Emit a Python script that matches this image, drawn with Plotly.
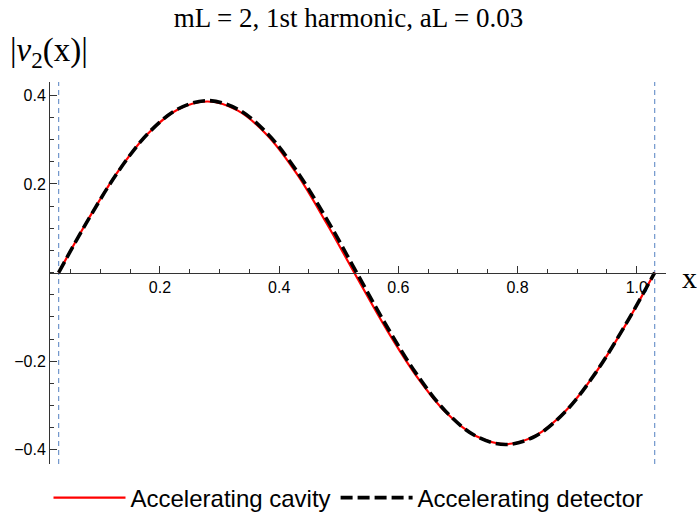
import plotly.graph_objects as go

# Sampled mode profile |v2(x)| across the cavity
x_pts = [0.03, 0.08, 0.13, 0.18, 0.23, 0.28, 0.33, 0.38, 0.43, 0.48, 0.53,
         0.58, 0.63, 0.68, 0.73, 0.78, 0.83, 0.88, 0.93, 0.98, 1.03]
cavity = [0.000, 0.121, 0.229, 0.314, 0.368, 0.386, 0.366, 0.310, 0.222, 0.110, -0.010,
          -0.128, -0.233, -0.316, -0.369, -0.387, -0.368, -0.313, -0.228, -0.121, 0.000]
detector = [0.000, 0.120, 0.228, 0.314, 0.369, 0.388, 0.369, 0.314, 0.228, 0.120, 0.000,
            -0.120, -0.228, -0.314, -0.369, -0.388, -0.369, -0.314, -0.228, -0.120, 0.000]

# Cavity walls
boundaries = [0.03, 1.03]

x_ticks = [0.2, 0.4, 0.6, 0.8, 1.0]
x_ticktext = ["0.2", "0.4", "0.6", "0.8", "1.0"]
y_ticks = [-0.4, -0.2, 0.2, 0.4]
y_ticktext = ["\u22120.4", "\u22120.2", "0.2", "0.4"]

x_range = [0.0155, 1.049]
y_range = [-0.432, 0.430]

W, H = 697, 512
ML, MR, MT, MB = 50, 31, 82, 48
plot_w, plot_h = W - ML - MR, H - MT - MB

fig = go.Figure()
fig.add_trace(go.Scatter(
    x=x_pts, y=cavity, mode="lines", name="Accelerating cavity",
    line=dict(color="#ff0000", width=2.2, shape="spline", smoothing=1.0),
))
fig.add_trace(go.Scatter(
    x=x_pts, y=detector, mode="lines", name="Accelerating detector",
    line=dict(color="#000000", width=3.6, dash="12px,5px", shape="spline", smoothing=1.0),
))

for b in boundaries:
    fig.add_shape(type="line", x0=b, x1=b, y0=0, y1=1, xref="x", yref="paper",
                  line=dict(color="#7096cc", width=1.2, dash="5px,4px"), layer="below")

zero_pos = (0 - y_range[0]) / (y_range[1] - y_range[0])

serif = "Liberation Serif, Times New Roman, serif"
sans = "Liberation Sans, Arial, sans-serif"

fig.update_layout(
    width=W, height=H,
    margin=dict(l=ML, r=MR, t=MT, b=MB, autoexpand=False),
    paper_bgcolor="white", plot_bgcolor="white",
    title=dict(text="mL = 2, 1st harmonic, aL = 0.03", x=0.5, xanchor="center",
               y=1 - 18 / H, yanchor="middle", yref="container",
               font=dict(family=serif, size=27, color="black")),
    showlegend=True,
    legend=dict(orientation="h", xref="container", yref="container",
                x=0.5, xanchor="center", y=1 - 498 / H, yanchor="middle",
                font=dict(family=sans, size=24, color="black"),
                itemwidth=72, bgcolor="rgba(0,0,0,0)"),
    xaxis=dict(range=x_range, anchor="free", position=zero_pos, showgrid=False, zeroline=False,
               showline=True, linecolor="#333333", linewidth=1,
               tickmode="array", tickvals=x_ticks, ticktext=x_ticktext,
               ticks="inside", ticklen=7, tickcolor="#333333", tickwidth=1,
               minor=dict(dtick=0.05, tick0=0, ticks="inside", ticklen=4, tickcolor="#333333"),
               tickfont=dict(family=sans, size=16, color="black")),
    yaxis=dict(range=y_range, showgrid=False, zeroline=False,
               showline=True, linecolor="#333333", linewidth=1,
               tickmode="array", tickvals=y_ticks, ticktext=y_ticktext,
               ticks="inside", ticklen=7, tickcolor="#333333", tickwidth=1,
               minor=dict(dtick=0.05, tick0=0, ticks="inside", ticklen=4, tickcolor="#333333"),
               tickfont=dict(family=sans, size=16, color="black")),
    annotations=[
        dict(text="|<i>v</i><sub>2</sub>(x)|", x=(8 - ML) / plot_w, y=1 + (MT - 53) / plot_h,
             xref="paper", yref="paper", showarrow=False, xanchor="left", yanchor="middle",
             font=dict(family=serif, size=33, color="black")),
        dict(text="x", x=1.0, y=zero_pos, xref="paper", yref="paper", xanchor="left",
             yanchor="middle", xshift=14, yshift=-5, showarrow=False,
             font=dict(family=serif, size=30, color="black")),
    ],
)

fig.write_html("out.html")
